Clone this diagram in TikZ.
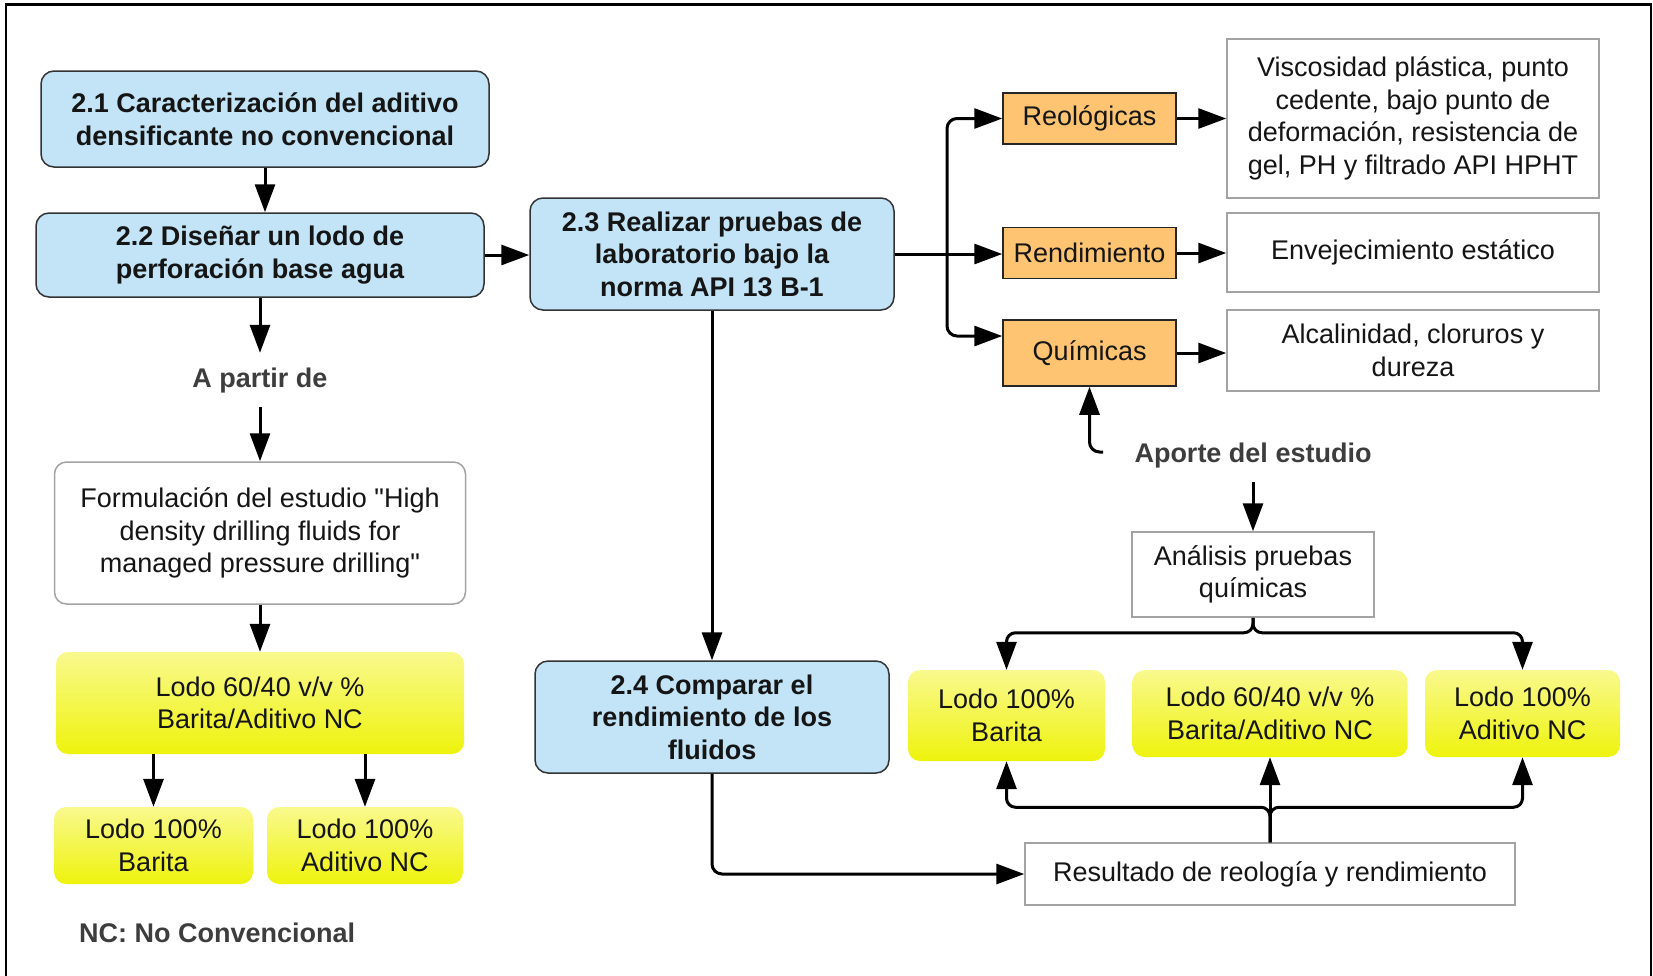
\documentclass[tikz,border=0pt]{standalone}
\usepackage{fontspec}
\setmainfont{Liberation Sans}
\newfontfamily\plainq{Liberation Sans}
\usetikzlibrary{arrows.meta}
\definecolor{bluefill}{HTML}{C2E4F6}
\definecolor{boxline}{HTML}{333333}
\definecolor{orangefill}{HTML}{FFC472}
\definecolor{ytop}{HTML}{F9F98E}
\definecolor{ybot}{HTML}{EEF30C}
\definecolor{grayline}{HTML}{A3A3A3}
\definecolor{labelgray}{HTML}{3D3D3D}
\definecolor{txt}{HTML}{151515}
\tikzset{
  base/.style={font=\fontsize{27}{32.5}\selectfont, align=center, inner sep=0pt, text=txt},
  bluebox/.style={base, font=\fontsize{27}{32.5}\selectfont\bfseries, draw=boxline, line width=1.5pt, fill=bluefill, rounded corners=13pt},
  orangebox/.style={base, draw=black!85, line width=1.5pt, fill=orangefill},
  whitebox/.style={base, draw=grayline, line width=1.5pt, fill=white},
  roundwhite/.style={whitebox, rounded corners=12pt},
  yellowbox/.style={base, top color=ytop, bottom color=ybot, rounded corners=12pt},
  lbl/.style={base, font=\fontsize{27}{32.5}\selectfont\bfseries, text=labelgray, inner ysep=14pt, text height=20pt, text depth=6pt},
  arr/.style={line width=3pt, -{Triangle[length=28pt,width=20pt]}},
  ln/.style={line width=3pt},
}
\begin{document}
\begin{tikzpicture}[x=1pt,y=-1pt]
\useasboundingbox (0,0) rectangle (1653,975);
% frame
\draw[line width=2.5pt] (6,990) -- (6,4.5) -- (1651,4.5) -- (1651,990);

% left column
\node[bluebox, minimum width=448pt, minimum height=96pt] (n21) at (265,119) {2.1 Caracterización del aditivo\\densificante no convencional};
\node[bluebox, minimum width=448pt, minimum height=84pt] (n22) at (260,255) {2.2 Diseñar un lodo de\\perforación base agua};
\node[lbl] (apartir) at (260,380) {A partir de};
\node[roundwhite, minimum width=411pt, minimum height=142pt] (form) at (260,533) {Formulación del estudio {\plainq"}High\\density drilling fluids for\\managed pressure drilling{\plainq"}};
\node[yellowbox, minimum width=408pt, minimum height=102pt] (lodoL) at (260,703) {Lodo 60/40 v/v \%\\Barita/Aditivo NC};
\node[yellowbox, minimum width=199pt, minimum height=77pt] (bL) at (153.5,845.5) {Lodo 100\%\\Barita};
\node[yellowbox, minimum width=196pt, minimum height=77pt] (aL) at (365,845.5) {Lodo 100\%\\Aditivo NC};
\node[base, font=\fontsize{27}{32.5}\selectfont\bfseries, text=labelgray, anchor=west] (nc) at (79,933) {NC: No Convencional};

% middle column
\node[bluebox, minimum width=364pt, minimum height=112pt] (n23) at (712,254) {2.3 Realizar pruebas de\\laboratorio bajo la\\norma API 13 B-1};
\node[bluebox, minimum width=354pt, minimum height=112pt] (n24) at (712,717) {2.4 Comparar el\\rendimiento de los\\fluidos};

% right top
\node[orangebox, minimum width=173pt, minimum height=51pt] (reo) at (1089.5,118.5) {Reológicas};
\node[orangebox, minimum width=173pt, minimum height=51pt] (ren) at (1089.5,253) {Rendimiento};
\node[orangebox, minimum width=173pt, minimum height=66pt] (quim) at (1089.5,353) {Químicas};
\node[whitebox, minimum width=372pt, minimum height=159pt] (visc) at (1413,118.5) {Viscosidad plástica, punto\\cedente, bajo punto de\\deformación, resistencia de\\gel, PH y filtrado API HPHT};
\node[whitebox, minimum width=372pt, minimum height=79pt] (env) at (1413,252.5) {Envejecimiento estático};
\node[whitebox, minimum width=372pt, minimum height=81pt] (alc) at (1413,350.5) {Alcalinidad, cloruros y\\dureza};

% right bottom
\node[lbl] (aporte) at (1253,455) {Aporte del estudio};
\node[whitebox, minimum width=242pt, minimum height=85pt] (ana) at (1253,574.5) {Análisis pruebas\\químicas};
\node[yellowbox, minimum width=197pt, minimum height=91pt] (bR) at (1006.5,715.5) {Lodo 100\%\\Barita};
\node[yellowbox, minimum width=275pt, minimum height=87pt] (mR) at (1270,713.5) {Lodo 60/40 v/v \%\\Barita/Aditivo NC};
\node[yellowbox, minimum width=195pt, minimum height=87pt] (aR) at (1522.5,713.5) {Lodo 100\%\\Aditivo NC};
\node[whitebox, minimum width=490pt, minimum height=62pt] (res) at (1270,874) {Resultado de reología y rendimiento};

\coordinate (j) at (947,254);
\coordinate (hk) at (1103,452);

% connectors left
\draw[arr] (n21.south) -- (n21.south |- n22.north);
\draw[arr] (n22.east) -- (n22.east -| n23.west);
\draw[arr] (n22.south) -- (apartir.north);
\draw[arr] (apartir.south) -- (form.north);
\draw[arr] (form.south) -- (lodoL.north);
\draw[arr] (bL.north |- lodoL.south) -- (bL.north);
\draw[arr] (aL.north |- lodoL.south) -- (aL.north);

% connectors middle
\draw[arr] (n23.south) -- (n24.north);
\draw[arr, rounded corners=10pt] (n24.south) |- (res.west);
\draw[ln] (n23.east) -- (j);
\draw[arr, rounded corners=10pt] (j) |- (reo.west);
\draw[arr] (j) -- (j -| ren.west);
\draw[arr, rounded corners=10pt] (j) |- ([yshift=17pt]quim.west);

% orange to white
\draw[arr] (reo.east) -- (reo.east -| visc.west);
\draw[arr] (ren.east) -- (ren.east -| env.west);
\draw[arr] (quim.east) -- (quim.east -| alc.west);

% aporte
\draw[arr, rounded corners=10pt] (hk) -| (quim.south);
\draw[arr] (aporte.south) -- (ana.north);
\draw[arr, rounded corners=9pt] (ana.south) -- ++(0,15) -| (bR.north);
\draw[arr, rounded corners=9pt] (ana.south) -- ++(0,15) -| (aR.north);

% resultado
\draw[arr] (res.north) -- (mR.south);
\draw[arr, rounded corners=9pt] (res.north) -- ++(0,-35) -| (bR.south);
\draw[arr, rounded corners=9pt] (res.north) -- ++(0,-35) -| (aR.south);
\end{tikzpicture}
\end{document}
